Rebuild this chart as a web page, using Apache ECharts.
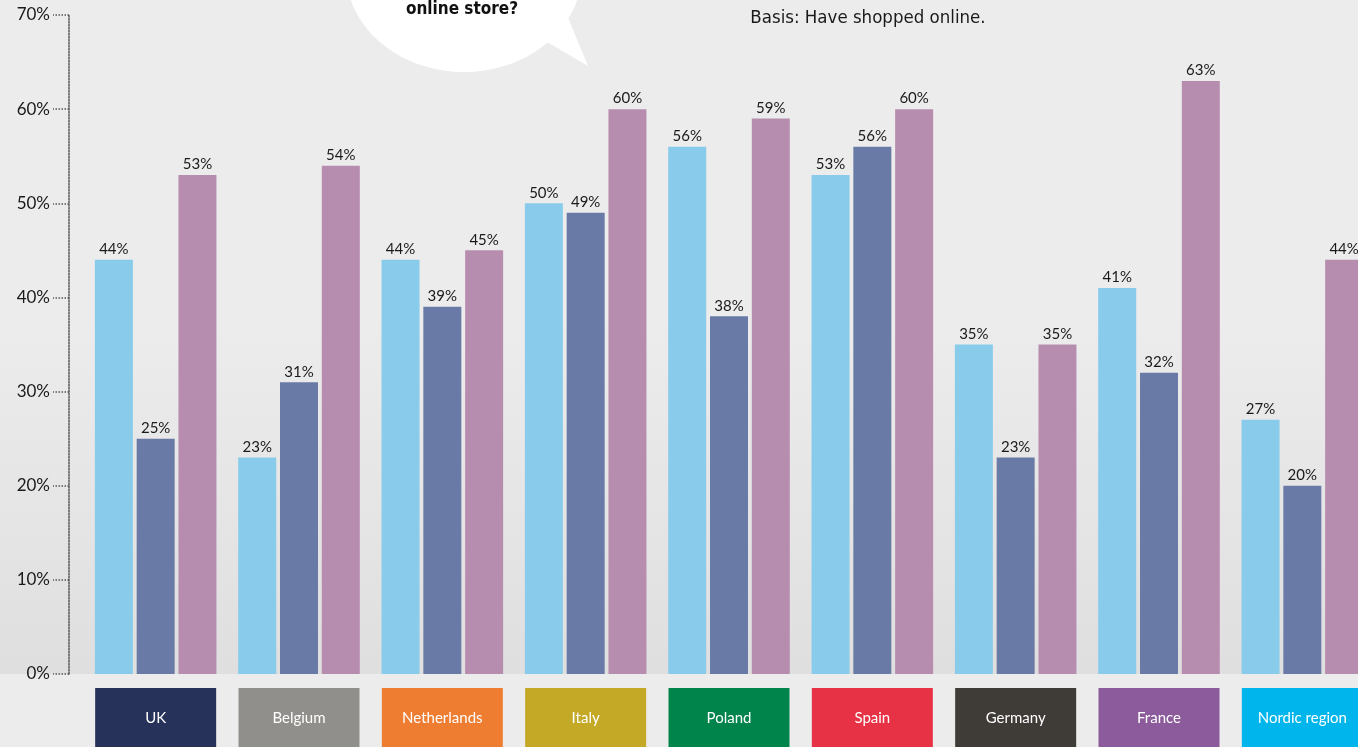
<!DOCTYPE html>
<html>
<head>
<meta charset="utf-8">
<script src="https://cdn.jsdelivr.net/npm/echarts@6/dist/echarts.min.js"></script>
<style>
html,body{margin:0;padding:0;background:#ececec;}
#c{width:1358px;height:747px;}
</style>
</head>
<body>
<div id="c"></div>
<script>
var categories = ['UK','Belgium','Netherlands','Italy','Poland','Spain','Germany','France','Nordic region'];
var categoryColors = ['#263259','#918f8c','#ee7d31','#c4a927','#00844c','#e63244','#3f3b37','#8b5b9b','#00b5ec'];
var seriesA = [44,23,44,50,56,53,35,41,27];
var seriesB = [25,31,39,49,38,56,23,32,20];
var seriesC = [53,54,45,60,59,60,35,63,44];
var seriesColors = ['#89cbea','#6a7aa6','#b78daf'];
var yTicks = [0,10,20,30,40,50,60,70];
var bubbleText = 'online store?';
var basisText = 'Basis: Have shopped online.';

var chart = echarts.init(document.getElementById('c'), null, {renderer:'canvas'});

var rich = {};
categories.forEach(function(c,i){
  rich['c'+i] = {backgroundColor: categoryColors[i], width:121, height:60, lineHeight:60, align:'center', color:'#fff', fontSize:15, fontFamily:'Lato, "Open Sans", sans-serif'};
});

function mk(data, color){
  return {
    type:'bar', data:data, barWidth:38, barGap:'10%',
    itemStyle:{color:color},
    label:{show:true, position:'top', distance:3, formatter:'{c}%', color:'#1a1a1a', fontSize:15, fontFamily:'Lato, "Open Sans", sans-serif'},
    silent:true
  };
}

chart.setOption({
  backgroundColor:'#ececec',
  animation:false,
  grid:{left:84, top:15, width:1290, height:659, outerBoundsMode:'none'},
  xAxis:{
    type:'category', data:categories,
    axisLine:{show:false}, axisTick:{show:false},
    axisLabel:{margin:14, interval:0, formatter:function(v){var i=categories.indexOf(v);return '{c'+i+'|'+v+'}';}, rich:rich}
  },
  yAxis:{
    type:'value', min:yTicks[0], max:yTicks[yTicks.length-1], interval:10, offset:15,
    axisLine:{show:true, lineStyle:{type:[1.5,1.5], color:'#555', width:1.5}},
    axisTick:{show:true, length:16, lineStyle:{type:[1.5,1.5], color:'#555', width:1.5}},
    axisLabel:{margin:19, formatter:'{value}%', color:'#1a1a1a', fontSize:17, fontFamily:'Lato, "Open Sans", sans-serif'},
    splitLine:{show:false}
  },
  graphic:[
    {type:'rect', z:-10, silent:true, shape:{x:0,y:322,width:1358,height:352},
      style:{fill:new echarts.graphic.LinearGradient(0,0,0,1,[{offset:0,color:'#ececec'},{offset:1,color:'#e0dfdf'}])}},
    {type:'polygon', silent:true, shape:{points:[[540,30],[567,15],[588,66],[547,42]]}, style:{fill:'#ffffff'}},
    {type:'ellipse', silent:true, shape:{cx:464, cy:-28, rx:118, ry:100}, style:{fill:'#ffffff'}},
    {type:'text', silent:true, x:462, y:10, style:{text:bubbleText, align:'center', verticalAlign:'middle', fill:'#111', font:'bold 17px "Liberation Sans Narrow", "DejaVu Sans Condensed", sans-serif'}},
    {type:'text', silent:true, x:868, y:18, style:{text:basisText, align:'center', verticalAlign:'middle', fill:'#1a1a1a', font:'18.5px "Liberation Sans Narrow", "DejaVu Sans Condensed", sans-serif'}}
  ],
  series:[mk(seriesA, seriesColors[0]), mk(seriesB, seriesColors[1]), mk(seriesC, seriesColors[2])]
});
</script>
</body>
</html>
